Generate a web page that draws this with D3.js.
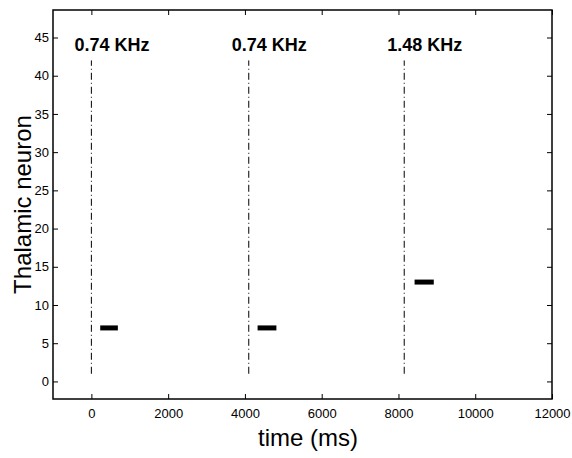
<!DOCTYPE html>
<html>
<head>
<meta charset="utf-8">
<script src="https://cdn.jsdelivr.net/npm/d3@7"></script>
<style>
  body { margin: 0; background: #fff; }
  text { font-family: "Liberation Sans", Arial, sans-serif; fill: #000; }
</style>
</head>
<body>
<svg id="chart" width="572" height="458"></svg>
<script>
// ── Data ─────────────────────────────────────────────────────────
const stimTimes   = [0, 4100, 8150];          // dash-dot markers (ms)
const stimLabels  = ["0.74 KHz", "0.74 KHz", "1.48 KHz"];
const markerRange = [1, 42];                  // neuron span of markers
const barStart    = [230, 4330, 8420];        // ms
const barEnd      = [690, 4820, 8920];        // ms
const barNeuron   = [7, 7, 13];
const xTicks = [0, 2000, 4000, 6000, 8000, 10000, 12000];
const yTicks = [0, 5, 10, 15, 20, 25, 30, 35, 40, 45];

// ── Config ───────────────────────────────────────────────────────
const box = { left: 53, right: 552, top: 10, bottom: 399 };
const svg = d3.select("#chart");

const x = d3.scaleLinear().domain([-1000, 12000]).range([box.left, box.right]);
const y = d3.scaleLinear().domain([-2.3, 48.6]).range([box.bottom, box.top]);

// ── Axes (inward ticks, mirrored on top/right) ───────────────────
const tk = 5;
svg.append("g").attr("transform", `translate(0,${box.bottom})`)
  .call(d3.axisBottom(x).tickValues(xTicks).tickFormat(d3.format("d"))
    .tickSizeInner(-tk).tickSizeOuter(0).tickPadding(10));
svg.append("g").attr("transform", `translate(${box.left},0)`)
  .call(d3.axisLeft(y).tickValues(yTicks).tickFormat(d3.format("d"))
    .tickSizeInner(-tk).tickSizeOuter(0).tickPadding(4));
svg.append("g").attr("transform", `translate(0,${box.top})`)
  .call(d3.axisTop(x).tickValues(xTicks).tickSizeInner(-tk).tickSizeOuter(0).tickFormat(""));
svg.append("g").attr("transform", `translate(${box.right},0)`)
  .call(d3.axisRight(y).tickValues(yTicks).tickSizeInner(-tk).tickSizeOuter(0).tickFormat(""));

svg.selectAll(".domain").remove();
svg.selectAll(".tick line").attr("stroke", "#000").attr("stroke-width", 1);
svg.selectAll(".tick text").style("font-size", "13px").style("font-family", "Liberation Sans, Arial, sans-serif");

svg.append("rect")
  .attr("x", box.left).attr("y", box.top)
  .attr("width", box.right - box.left).attr("height", box.bottom - box.top)
  .attr("fill", "none").attr("stroke", "#000").attr("stroke-width", 1.5);

// ── Stimulus markers ─────────────────────────────────────────────
svg.selectAll(".marker").data(stimTimes).enter()
  .append("line")
  .attr("x1", d => x(d)).attr("x2", d => x(d))
  .attr("y1", y(markerRange[0])).attr("y2", y(markerRange[1]))
  .attr("stroke", "#000").attr("stroke-width", 1)
  .attr("stroke-dasharray", "7,3,1,3");

svg.selectAll(".stim-label").data(stimTimes).enter()
  .append("text")
  .attr("x", d => x(d) - 17)
  .attr("y", y(42) - 9)
  .style("font-size", "18px").style("font-weight", "bold")
  .text((d, i) => stimLabels[i]);

// ── Response bars ────────────────────────────────────────────────
svg.selectAll(".bar").data(barStart).enter()
  .append("line")
  .attr("x1", (d, i) => x(barStart[i])).attr("x2", (d, i) => x(barEnd[i]))
  .attr("y1", (d, i) => y(barNeuron[i])).attr("y2", (d, i) => y(barNeuron[i]))
  .attr("stroke", "#000").attr("stroke-width", 5);

// ── Axis titles ──────────────────────────────────────────────────
svg.append("text")
  .attr("x", 308).attr("y", 446)
  .attr("text-anchor", "middle")
  .style("font-size", "24px")
  .text("time (ms)");

svg.append("text")
  .attr("transform", `translate(31,${(box.top + box.bottom) / 2}) rotate(-90)`)
  .attr("text-anchor", "middle")
  .style("font-size", "24px")
  .text("Thalamic neuron");
</script>
</body>
</html>
